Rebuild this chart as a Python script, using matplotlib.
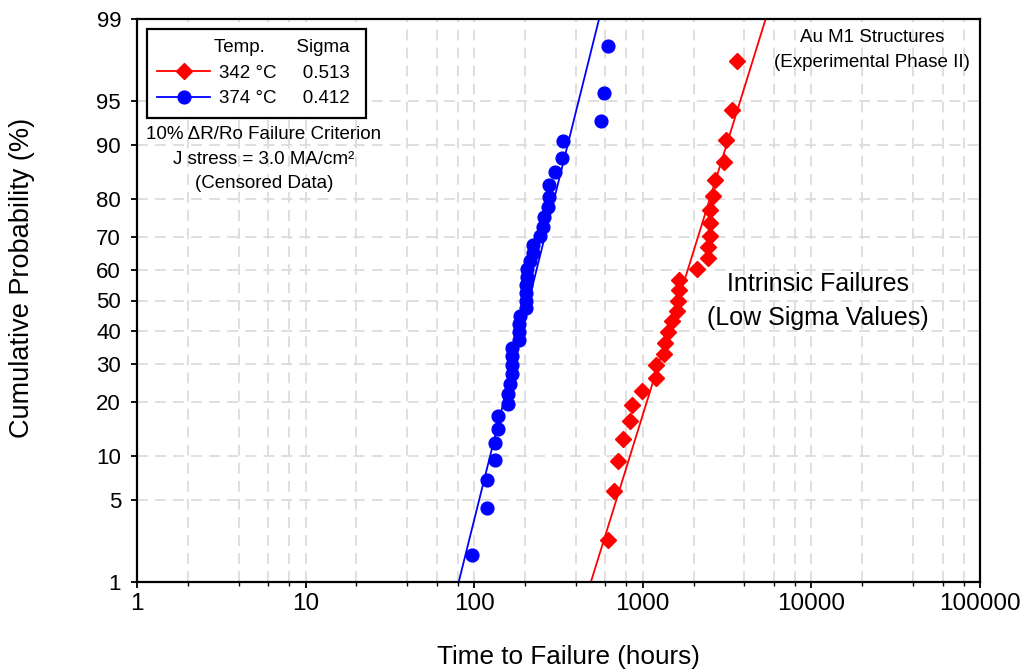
import math
import numpy as np
import matplotlib
matplotlib.use("Agg")
import matplotlib.pyplot as plt
from matplotlib.lines import Line2D
from matplotlib.ticker import FixedLocator, NullLocator, LogLocator, NullFormatter, FixedFormatter

plt.rcParams['font.family'] = ['Liberation Sans', 'DejaVu Sans']

# ---- data -------------------------------------------------------------
temps = ['342 °C', '374 °C']
sigmas = [0.513, 0.412]
medians = [1623.0, 211.0]          # median time to failure (hours)
colors = ['#ff0000', '#0000ff']
markers = ['D', 'o']

# 342 °C failures (hours) and cumulative probability (%)
red_hours = [624, 678, 710, 766, 840, 867, 985, 1198, 1198, 1341, 1354, 1417,
             1484, 1602, 1624, 1646, 1646, 2088, 2446, 2446, 2510, 2520, 2520,
             2619, 2681, 3030, 3102, 3369, 3605]
red_pct = [2.38, 5.78, 9.18, 12.59, 15.99, 19.39, 22.79, 26.19, 29.59, 32.99,
           36.39, 39.80, 43.20, 46.60, 50.00, 53.40, 56.80, 60.20, 63.61, 67.01,
           70.41, 73.81, 77.21, 80.61, 84.01, 87.41, 90.82, 94.22, 97.62]

# 374 °C failures (hours) and cumulative probability (%)
blue_hours = [97, 119, 119, 132, 132, 139, 139, 159, 159, 162, 167, 167, 167,
              167, 185, 185, 185, 187, 203, 203, 203, 203, 207, 207, 214, 222,
              222, 246, 257, 261, 275, 279, 279, 301, 333, 335, 563, 591, 624]
blue_pct = [1.78, 4.31, 6.85, 9.39, 11.93, 14.47, 17.01, 19.54, 22.08, 24.62,
            27.16, 29.70, 32.23, 34.77, 37.31, 39.85, 42.39, 44.92, 47.46, 50.00,
            52.54, 55.08, 57.61, 60.15, 62.69, 65.23, 67.77, 70.30, 72.84, 75.38,
            77.92, 80.46, 83.00, 85.53, 88.07, 90.61, 93.15, 95.69, 98.22]

prob_ticks = [1, 5, 10, 20, 30, 40, 50, 60, 70, 80, 90, 95, 99]
time_ticks = [1, 10, 100, 1000, 10000, 100000]

# ---- normal probability scale ------------------------------------------
_erf = np.vectorize(math.erf)

_a = [-3.969683028665376e+01, 2.209460984245205e+02, -2.759285104469687e+02,
      1.383577518672690e+02, -3.066479806614716e+01, 2.506628277459239e+00]
_b = [-5.447609879822406e+01, 1.615858368580409e+02, -1.556989798598866e+02,
      6.680131188771972e+01, -1.328068155288572e+01]
_c = [-7.784894002430293e-03, -3.223964580411365e-01, -2.400758277161838e+00,
      -2.549732539343734e+00, 4.374664141464968e+00, 2.938163982698783e+00]
_d = [7.784695709041462e-03, 3.224671290700398e-01, 2.445134137142996e+00,
      3.754408661907416e+00]


def norm_cdf(z):
    z = np.asarray(z, dtype=float)
    return 0.5 * (1.0 + _erf(z / math.sqrt(2.0)))


def norm_ppf(p):
    p = np.clip(np.asarray(p, dtype=float), 1e-12, 1 - 1e-12)
    plow = 0.02425
    out = np.empty_like(p)
    lo = p < plow
    hi = p > 1 - plow
    mid = ~(lo | hi)
    if lo.any():
        q = np.sqrt(-2 * np.log(p[lo]))
        out[lo] = ((((((_c[0]*q+_c[1])*q+_c[2])*q+_c[3])*q+_c[4])*q+_c[5]) /
                   ((((_d[0]*q+_d[1])*q+_d[2])*q+_d[3])*q+1))
    if hi.any():
        q = np.sqrt(-2 * np.log(1 - p[hi]))
        out[hi] = -((((((_c[0]*q+_c[1])*q+_c[2])*q+_c[3])*q+_c[4])*q+_c[5]) /
                    ((((_d[0]*q+_d[1])*q+_d[2])*q+_d[3])*q+1))
    if mid.any():
        q = p[mid] - 0.5
        r = q * q
        out[mid] = ((((((_a[0]*r+_a[1])*r+_a[2])*r+_a[3])*r+_a[4])*r+_a[5])*q /
                    (((((_b[0]*r+_b[1])*r+_b[2])*r+_b[3])*r+_b[4])*r+1))
    return out


def pct_forward(v):
    return norm_ppf(np.asarray(v, dtype=float) / 100.0)


def pct_inverse(z):
    return norm_cdf(z) * 100.0


# ---- figure -----------------------------------------------------------
W, H = 1028, 672
fig = plt.figure(figsize=(W / 100, H / 100), dpi=100)
left, right, top, bottom = 137, 980, 19, 582
ax = fig.add_axes([left / W, (H - bottom) / H, (right - left) / W, (bottom - top) / H])

ax.set_xscale('log')
ax.set_yscale('function', functions=(pct_forward, pct_inverse))
ax.set_xlim(1, 100000)
ax.set_ylim(1, 99)

grid_kw = dict(color='#dcdcdc', linestyle=(0, (6, 4)), linewidth=1.3)
ax.set_axisbelow(True)

# fitted lognormal lines
z = np.linspace(-3.0, 3.0, 80)
for med, sig, col in zip(medians, sigmas, colors):
    ax.plot(med * np.exp(sig * z), pct_inverse(z), color=col, lw=1.3, zorder=2)

ms_d, ms_o = 7.8, 9.2
ax.plot(red_hours, red_pct, linestyle='none', marker='D', ms=ms_d,
        color=colors[0], zorder=3)
ax.plot(blue_hours, blue_pct, linestyle='none', marker='o', ms=ms_o,
        color=colors[1], zorder=3)

# axes and ticks
ax.yaxis.set_major_locator(FixedLocator(prob_ticks))
ax.yaxis.set_major_formatter(FixedFormatter([str(v) for v in prob_ticks]))
ax.yaxis.set_minor_locator(NullLocator())
ax.xaxis.set_major_locator(FixedLocator(time_ticks))
ax.xaxis.set_major_formatter(FixedFormatter([str(v) for v in time_ticks]))
ax.xaxis.set_minor_locator(LogLocator(base=10, subs=(2, 4, 6, 8), numticks=20))
ax.xaxis.set_minor_formatter(NullFormatter())

ax.grid(True, which='both', axis='x', **grid_kw)
ax.grid(True, which='major', axis='y', **grid_kw)

ax.tick_params(axis='x', which='major', direction='out', length=4.5, width=1.3,
               labelsize=17.5, pad=3.5, color='black')
ax.tick_params(axis='x', which='minor', direction='out', length=2.6, width=1.0)
ax.tick_params(axis='y', which='major', direction='out', length=4.5, width=1.3,
               labelsize=16, pad=7, color='black')
for s in ax.spines.values():
    s.set_linewidth(1.6)

ax.set_xlabel('Time to Failure (hours)', fontsize=18.8, va='center', ha='center')
ax.xaxis.set_label_coords((568 - left) / (right - left), (bottom - 657) / (bottom - top))
ax.set_ylabel('Cumulative Probability (%)', fontsize=19.5, va='center', ha='center')
ax.yaxis.set_label_coords((22 - left) / (right - left), (bottom - 278) / (bottom - top))

# legend
handles = [Line2D([], [], color=c, lw=1.3, marker=m, ms=(ms_d if m == 'D' else ms_o))
           for c, m in zip(colors, markers)]
labels = [f'{t}     {s:.3f} ' for t, s in zip(temps, sigmas)]
leg = ax.legend(handles, labels, title='Temp.      Sigma ', loc='upper left',
                bbox_to_anchor=((147 - left) / (right - left), (bottom - 29) / (bottom - top)),
                borderaxespad=0, fontsize=13.5, title_fontsize=13.5,
                alignment='right', fancybox=False, framealpha=1, edgecolor='black',
                handlelength=2.8, handletextpad=0.5, labelspacing=0.45,
                borderpad=0.55)
leg.get_frame().set_linewidth(1.6)


def axpos(px, py):
    return (px - left) / (right - left), (bottom - py) / (bottom - top)


ax.text(*axpos(264, 159), '10% ΔR/Ro Failure Criterion\nJ stress = 3.0 MA/cm²\n(Censored Data)',
        transform=ax.transAxes, ha='center', va='center', multialignment='center',
        fontsize=13.5, linespacing=1.6)
ax.text(*axpos(872, 50), 'Au M1 Structures\n(Experimental Phase II)',
        transform=ax.transAxes, ha='center', va='center', multialignment='center',
        fontsize=13.5, linespacing=1.64)
ax.text(*axpos(818, 301), 'Intrinsic Failures\n(Low Sigma Values)',
        transform=ax.transAxes, ha='center', va='center', multialignment='center',
        fontsize=18, linespacing=1.53)

fig.savefig('out.png', dpi=100)
